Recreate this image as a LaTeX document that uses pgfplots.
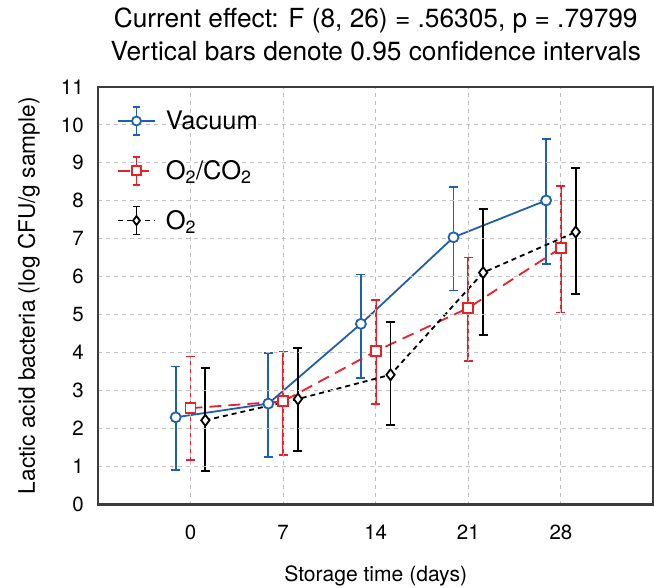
\documentclass[border=0pt]{standalone}
\usepackage{fontspec}
\setmainfont{TeX Gyre Heros}
\usepackage{pgfplots}
\usepackage{pgfplotstable}
\pgfplotsset{compat=1.18}
\definecolor{vblue}{RGB}{30,96,176}
\definecolor{vred}{RGB}{232,32,40}
\definecolor{framec}{RGB}{60,60,60}

\pgfplotstableread{
x y hi lo
-0.16 2.30 3.64 0.91
0.84 2.66 3.99 1.26
1.84 4.76 6.06 3.34
2.84 7.04 8.36 5.64
3.84 8.01 9.63 6.33
}\vacuum
\pgfplotstableread{
x y hi lo
0 2.54 3.90 1.18
1 2.72 4.03 1.31
2 4.04 5.39 2.66
3 5.18 6.51 3.79
4 6.76 8.39 5.06
}\oco
\pgfplotstableread{
x y hi lo
0.16 2.22 3.60 0.88
1.16 2.78 4.12 1.42
2.16 3.42 4.81 2.10
3.16 6.11 7.78 4.46
4.16 7.18 8.86 5.55
}\otwo

\begin{document}
\begin{tikzpicture}[font=\fontsize{20.5}{24}\selectfont]
\begin{axis}[
  scale only axis, width=556pt, height=418pt,
  xmin=-1, xmax=5, ymin=0, ymax=11,
  xtick={0,1,2,3,4}, xticklabels={0,7,14,21,28},
  ytick={0,1,...,11},
  /pgf/number format/assume math mode=true,
  grid=major,
  grid style={gray!50, line width=1.1pt, dash pattern=on 4pt off 4pt},
  axis line style={draw=framec, line width=2.6pt},
  axis on top,
  major tick length=0pt,
  xticklabel style={anchor=north, inner sep=0pt, yshift=-20pt},
  yticklabel style={anchor=east, inner sep=0pt, xshift=-14pt},
  xlabel={Storage time (days)},
  ylabel={Lactic acid bacteria (log CFU/g sample)},
  xlabel style={at={(axis description cs:0.5,0)}, anchor=base, inner sep=0pt, yshift=-77pt, font=\fontsize{21.1}{25}\selectfont},
  ylabel style={at={(axis description cs:0,0.5)}, anchor=base, inner sep=0pt, yshift=63pt, font=\fontsize{22.7}{27}\selectfont},
  title={Current effect: F (8, 26) = .56305, p = .79799\\Vertical bars denote 0.95 confidence intervals},
  title style={at={(axis description cs:0.5,1)}, anchor=south, align=center, inner sep=0pt, text depth=0pt, yshift=20pt, font=\fontsize{26.3}{33.4}\selectfont},
  legend style={at={(axis description cs:0,1)}, anchor=north west, xshift=19pt, yshift=-19pt,
    draw=none, fill=none, inner sep=0pt, row sep=20pt, nodes={inner sep=0pt},
    font=\fontsize{25.5}{30}\selectfont,
    /tikz/every odd column/.append style={column sep=10pt}},
  legend cell align=left,
  legend image code/.code={
    \draw[#1, mark=none] (0pt,0pt) -- (37pt,0pt);
    \draw[#1, solid, mark=none, line width=1.8pt] (18.5pt,-14pt) -- (18.5pt,14pt) (14.5pt,-14pt) -- (22.5pt,-14pt) (14.5pt,14pt) -- (22.5pt,14pt);
    \draw[#1, solid, mark size=4.5pt] plot coordinates {(18.5pt,0pt)};
  },
  error bars/y dir=both, error bars/y explicit,
  error bars/error bar style={line width=1.8pt, solid},
  error bars/error mark options={rotate=90, mark size=4.5pt, line width=1.8pt, solid},
]
\addplot[vblue, line width=1.8pt, solid, mark=*, mark size=5pt, mark options={fill=white, solid}]
  table[x=x, y=y, y error plus expr=\thisrow{hi}-\thisrow{y}, y error minus expr=\thisrow{y}-\thisrow{lo}] {\vacuum};
\addlegendentry{Vacuum}
\addplot[vred, line width=1.8pt, dash pattern=on 12pt off 7pt, mark=square*, mark size=5pt, mark options={fill=white, solid}]
  table[x=x, y=y, y error plus expr=\thisrow{hi}-\thisrow{y}, y error minus expr=\thisrow{y}-\thisrow{lo}] {\oco};
\addlegendentry{O\textsubscript{2}/CO\textsubscript{2}}
\addplot[black, line width=1.8pt, dash pattern=on 5pt off 4pt, mark=diamond*, mark size=5.5pt, mark options={fill=white, solid}]
  table[x=x, y=y, y error plus expr=\thisrow{hi}-\thisrow{y}, y error minus expr=\thisrow{y}-\thisrow{lo}] {\otwo};
\addlegendentry{O\textsubscript{2}}
\end{axis}
\pgfresetboundingbox
\path[use as bounding box] ([shift={(-98pt,-83pt)}]current axis.south west) rectangle ([shift={(0.5pt,87pt)}]current axis.north east);
\end{tikzpicture}
\end{document}
